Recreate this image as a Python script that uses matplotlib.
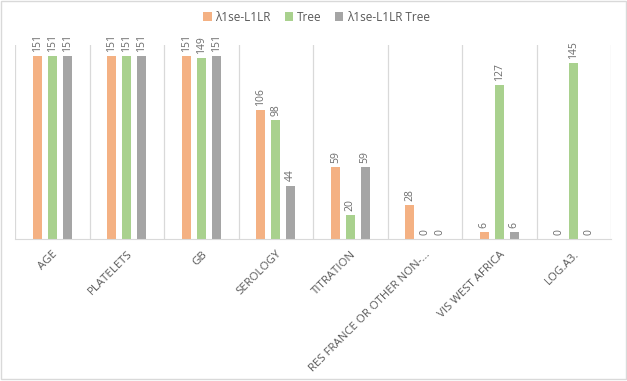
import numpy as np
import matplotlib.pyplot as plt

categories = ["AGE", "PLATELETS", "GB", "SEROLOGY", "TITRATION",
              "RES FRANCE OR OTHER NON-...", "VIS WEST AFRICA", "LOG.A3."]
series_names = ["λ1se-L1LR", "Tree", "λ1se-L1LR Tree"]
l1lr = [151, 151, 151, 106, 59, 28, 6, 0]
tree = [151, 151, 149, 98, 20, 0, 127, 145]
l1lr_tree = [151, 151, 151, 44, 59, 0, 6, 0]
colors = ["#F4B183", "#A9D18E", "#A5A5A5"]

plt.rcParams['font.family'] = ['Open Sans', 'DejaVu Sans']

fig = plt.figure(figsize=(6.27, 3.81), dpi=100)
ax = fig.add_axes([15 / 627, 1 - 239 / 381, (611 - 15) / 627, (239 - 45) / 381])

x = np.arange(len(categories))
w = 0.12
offsets = [-0.2, 0, 0.2]
for vals, off, col, name in zip([l1lr, tree, l1lr_tree], offsets, colors, series_names):
    bars = ax.bar(x + off, vals, width=w, color=col, label=name)
    for b, v in zip(bars, vals):
        ax.annotate(str(v), (b.get_x() + b.get_width() / 2, v), xytext=(0, 3),
                    textcoords='offset points', rotation=90, ha='center', va='bottom',
                    fontsize=7.5, color='#6b6b6b')

ax.set_xlim(-0.5, len(categories) - 0.5)
ax.set_ylim(0, 160)
ax.set_yticks([])
for b in np.arange(-0.5, len(categories), 1):
    ax.axvline(b, color='#D9D9D9', lw=0.9, zorder=0)
for s in ['top', 'left', 'right']:
    ax.spines[s].set_visible(False)
ax.spines['bottom'].set_color('#D9D9D9')
ax.set_xticks(x)
ax.set_xticklabels(categories, rotation=45, ha='right', rotation_mode='anchor',
                   fontsize=8.2, color='#595959')
ax.tick_params(axis='x', length=0, pad=7)

fig.legend(loc='upper center', bbox_to_anchor=(0.505, 1.0), ncol=3, frameon=False,
           fontsize=8.5, handlelength=0.7, handleheight=0.7, handletextpad=0.3,
           columnspacing=1.2, labelcolor='#595959')

border = plt.Rectangle((0.002, 0.004), 0.996, 0.993, transform=fig.transFigure,
                       fill=False, edgecolor='#D9D9D9', lw=1)
fig.add_artist(border)

fig.savefig("out.png", dpi=100)
